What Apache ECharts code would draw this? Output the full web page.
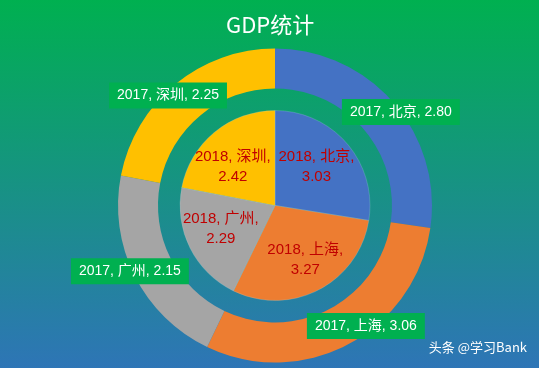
<!DOCTYPE html>
<html>
<head>
<meta charset="utf-8">
<script src="https://cdn.jsdelivr.net/npm/echarts@6/dist/echarts.min.js"></script>
<style>html,body{margin:0;padding:0;}#c{width:539px;height:368px;}</style>
</head>
<body>
<div id="c"></div>
<script>
var cities = ['北京', '上海', '广州', '深圳'];
var values2017 = [2.80, 3.06, 2.15, 2.25];
var values2018 = [3.03, 3.27, 2.29, 2.42];
var colors = ['#4472C4', '#ED7D31', '#A5A5A5', '#FFC000'];

// label nudges (style only)
var outerOffsets = [[20, -2], [25, -3], [-20, 3], [-18, -2]];
var innerOffsets = [[3, -6], [7, 10], [-9, 1], [-10, 0]];

var FONT = "'Liberation Sans', 'Noto Sans CJK SC', sans-serif";

var chart = echarts.init(document.getElementById('c'));
chart.setOption({
  backgroundColor: {
    type: 'linear', x: 0, y: 0, x2: 0, y2: 1,
    colorStops: [{offset: 0, color: '#00B050'}, {offset: 1, color: '#2E75B6'}]
  },
  color: colors,
  animation: false,
  title: {
    text: 'GDP统计',
    left: 221, top: 9,
    textStyle: {color: '#ffffff', fontSize: 22, fontWeight: 'normal', fontFamily: "'Noto Sans CJK SC', sans-serif"}
  },
  graphic: [{
    type: 'text', right: 12, top: 341,
    style: {text: '头条 @学习Bank', fill: '#ffffff', font: "13px 'Noto Sans CJK SC', sans-serif",
      shadowColor: 'rgba(0,0,0,0.6)', shadowBlur: 2, shadowOffsetX: 1, shadowOffsetY: 1}
  }],
  series: [{
    name: '2017', type: 'pie', radius: [117, 157], center: [275, 205.5],
    startAngle: 90, clockwise: true,
    labelLine: {show: false},
    label: {
      show: true, position: 'inside',
      formatter: function (p) { return '2017, ' + p.name + ', ' + p.value.toFixed(2); },
      color: '#ffffff', fontSize: 14, fontFamily: FONT,
      backgroundColor: '#00B050', padding: [6, 8, 6, 8]
    },
    emphasis: {disabled: true},
    data: cities.map(function (c, i) {
      return {name: c, value: values2017[i], label: {offset: outerOffsets[i]}};
    })
  }, {
    name: '2018', type: 'pie', radius: [0, 95], center: [275, 205.5],
    startAngle: 90, clockwise: true,
    labelLine: {show: false},
    itemStyle: {borderColor: 'rgba(160,210,220,0.5)', borderWidth: 0.5},
    label: {
      show: true, position: 'inside',
      formatter: function (p) { return '2018, ' + p.name + ',\n' + p.value.toFixed(2); },
      color: '#C00000', fontSize: 15, lineHeight: 20, fontFamily: FONT
    },
    emphasis: {disabled: true},
    data: cities.map(function (c, i) {
      return {name: c, value: values2018[i], label: {offset: innerOffsets[i]}};
    })
  }]
});
</script>
</body>
</html>
